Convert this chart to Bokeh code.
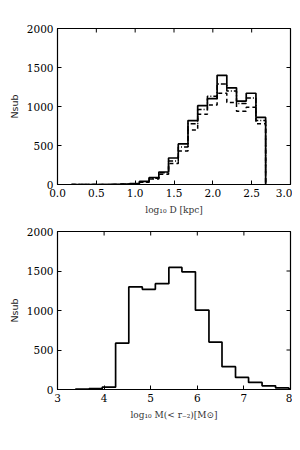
import math
from bokeh.plotting import figure
from bokeh.models import Range1d, FixedTicker
from bokeh.layouts import column
from bokeh.embed import file_html
from bokeh.resources import INLINE

# ---- data: top panel (log10 D [kpc]) ----
d_edges = [0.18, 0.305, 0.43, 0.555, 0.68, 0.805, 0.93, 1.055, 1.18, 1.305, 1.43,
           1.555, 1.68, 1.805, 1.93, 2.055, 2.18, 2.305, 2.43, 2.555, 2.68]
d_solid = [0, 0, 0, 0, 1, 4, 12, 40, 90, 160, 340, 520, 820, 1010, 1100, 1400, 1240, 1070, 1170, 860]
d_dashdot = [0, 0, 0, 0, 1, 3, 10, 35, 80, 150, 300, 480, 780, 960, 1130, 1290, 1200, 1040, 1110, 820]
d_dashed = [0, 0, 0, 0, 1, 3, 8, 30, 70, 130, 270, 430, 700, 900, 1020, 1170, 1050, 940, 990, 780]

# ---- data: bottom panel (log10 M(<r_-2)) ----
m_edges = [3.39, 3.676, 3.96, 4.247, 4.53, 4.82, 5.10, 5.39, 5.67, 5.96, 6.25, 6.53,
           6.82, 7.10, 7.39, 7.68, 7.96, 8.25]
m_counts = [5, 10, 30, 587, 1298, 1268, 1340, 1545, 1489, 1004, 600, 289, 153, 89, 47, 20, 10]

top_xticks = [0.0, 0.5, 1.0, 1.5, 2.0, 2.5, 3.0]
bot_xticks = [3, 4, 5, 6, 7, 8]
yticks = [0, 500, 1000, 1500, 2000]

SERIF = "DejaVu Serif"


def step_xy(edges, counts):
    xs, ys = [edges[0]], [0]
    for i, c in enumerate(counts):
        xs += [edges[i], edges[i + 1]]
        ys += [c, c]
    xs.append(edges[-1])
    ys.append(0)
    return xs, ys


def style(p, xticks, xfmt, xr, yr):
    p.outline_line_color = "black"
    p.outline_line_width = 1.2
    p.xgrid.visible = False
    p.ygrid.visible = False
    p.background_fill_color = "white"
    p.border_fill_color = "white"
    for ax in p.xaxis + p.yaxis:
        ax.major_tick_in = 4
        ax.major_tick_out = 0
        ax.minor_tick_line_color = None
        ax.axis_line_color = "black"
        ax.major_tick_line_color = "black"
        ax.major_label_text_font = SERIF
        ax.major_label_text_font_size = "10.5px"
        ax.major_label_text_color = "black"
        ax.axis_label_text_font = SERIF
        ax.axis_label_text_font_style = "normal"
        ax.axis_label_text_font_size = "9px"
        ax.axis_label_text_color = "#333333"
    p.xaxis.ticker = FixedTicker(ticks=xticks)
    p.yaxis.ticker = FixedTicker(ticks=yticks)
    p.xaxis.major_label_overrides = {t: xfmt(t) for t in xticks}
    p.yaxis.major_label_overrides = {t: str(t) for t in yticks}
    p.yaxis.major_label_standoff = 4
    p.xaxis.major_label_standoff = 4
    p.yaxis.axis_label = "Nsub"
    p.yaxis.axis_label_text_font = "DejaVu Sans"
    p.yaxis.axis_label_text_font_size = "9.5px"
    p.yaxis.axis_label_text_color = "#222222"
    p.yaxis.axis_label_standoff = 4
    # mirrored inward ticks on top and right (markers clipped by the frame)
    p.scatter(xticks, [yr[1]] * len(xticks), marker="dash", angle=math.pi / 2, size=8,
              line_color="black", line_width=1)
    p.scatter([xr[1]] * len(yticks), yticks, marker="dash", size=8,
              line_color="black", line_width=1)


p1 = figure(width=292, height=223, output_backend="svg", toolbar_location=None,
            x_range=Range1d(0, 3), y_range=Range1d(0, 2000),
            min_border_left=57, min_border_right=2, min_border_top=28, min_border_bottom=39,
            frame_width=233, frame_height=156)
p1.xaxis.axis_label = "log₁₀ D [kpc]"
xs, ys = step_xy(d_edges, d_dashed)
p1.line(xs, ys, line_color="black", line_width=1.5, line_dash="4 3")
xs, ys = step_xy(d_edges, d_dashdot)
p1.line(xs, ys, line_color="black", line_width=1.5, line_dash="5 2 1 2")
xs, ys = step_xy(d_edges, d_solid)
p1.line(xs, ys, line_color="black", line_width=1.7)
style(p1, top_xticks, lambda t: f"{t:.1f}", (0, 3), (0, 2000))

p2 = figure(width=292, height=211, output_backend="svg", toolbar_location=None,
            x_range=Range1d(3, 8), y_range=Range1d(0, 2000),
            min_border_left=57, min_border_right=2, min_border_top=8, min_border_bottom=45,
            frame_width=233, frame_height=158)
p2.xaxis.axis_label = "log₁₀ M(< r₋₂)[M⊙]"
xs, ys = step_xy(m_edges, m_counts)
p2.line(xs, ys, line_color="black", line_width=1.7)
style(p2, bot_xticks, lambda t: str(t), (3, 8), (0, 2000))

layout = column(p1, p2, spacing=0)
open("out.html", "w").write(file_html(layout, INLINE))
